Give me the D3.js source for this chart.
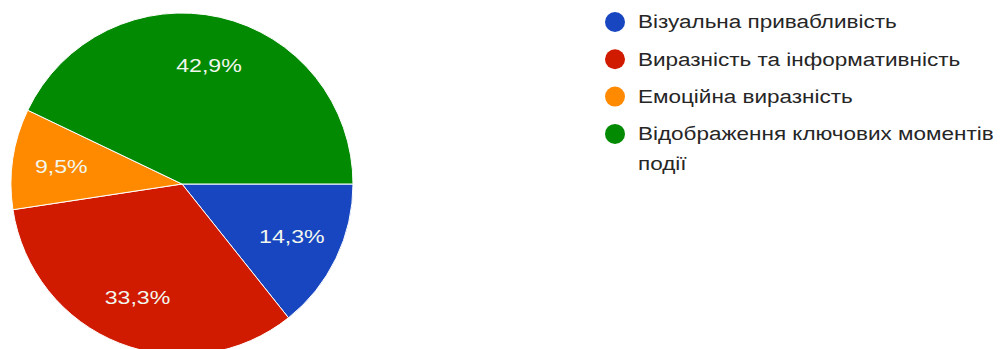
<!DOCTYPE html>
<html>
<head>
<meta charset="utf-8">
<script src="https://cdn.jsdelivr.net/npm/d3@7"></script>
<style>
  body { margin: 0; background: #fff; }
  svg { display: block; font-family: Arial, "Liberation Sans", sans-serif; }
</style>
</head>
<body>
<script>
const categories = [
  'Візуальна привабливість',
  'Виразність та інформативність',
  'Емоційна виразність',
  ['Відображення ключових моментів', 'події']
];
const values = [14.3, 33.3, 9.5, 42.9];
const labels = ['14,3%', '33,3%', '9,5%', '42,9%'];
const colors = ['#1746c0', '#d01b00', '#ff8a00', '#038a03'];

const width = 1000, height = 349;
const cx = 182, cy = 184, radius = 171;
// the source picture is stretched sideways, so the text is too
const stretch = 1.25;

const svg = d3.select('body').append('svg')
  .attr('width', width)
  .attr('height', height);

// pie starts at 3 o'clock, clockwise
const pie = d3.pie().sort(null)
  .startAngle(Math.PI / 2)
  .endAngle(Math.PI / 2 + 2 * Math.PI);
const arcs = pie(values);

const arcGen = d3.arc().innerRadius(0).outerRadius(radius);
const labelArc = d3.arc().innerRadius(122).outerRadius(122);

const g = svg.append('g').attr('transform', `translate(${cx},${cy})`);

g.selectAll('path')
  .data(arcs)
  .enter()
  .append('path')
  .attr('d', arcGen)
  .attr('fill', (d, i) => colors[i])
  .attr('stroke', '#fff')
  .attr('stroke-width', 1);

g.selectAll('text')
  .data(arcs)
  .enter()
  .append('text')
  .attr('transform', d => `translate(${labelArc.centroid(d)}) scale(${stretch},1)`)
  .attr('dy', '0.35em')
  .attr('text-anchor', 'middle')
  .attr('fill', '#f2f7ee')
  .attr('font-size', 18.5)
  .text((d, i) => labels[i]);

// legend
const legend = svg.append('g').attr('transform', 'translate(615,22)');
const rowH = 37.3;

const item = legend.selectAll('g')
  .data(categories)
  .enter()
  .append('g')
  .attr('transform', (d, i) => `translate(0,${i * rowH})`);

item.append('circle')
  .attr('r', 10)
  .attr('fill', (d, i) => colors[i]);

item.append('text')
  .attr('transform', `translate(23,0) scale(${stretch},1)`)
  .attr('fill', '#262626')
  .attr('font-size', 18)
  .each(function (d) {
    const lines = Array.isArray(d) ? d : [d];
    d3.select(this).selectAll('tspan')
      .data(lines)
      .enter()
      .append('tspan')
      .attr('x', 0)
      .attr('dy', (l, j) => j === 0 ? '0.35em' : '30px')
      .text(l => l);
  });
</script>
</body>
</html>
